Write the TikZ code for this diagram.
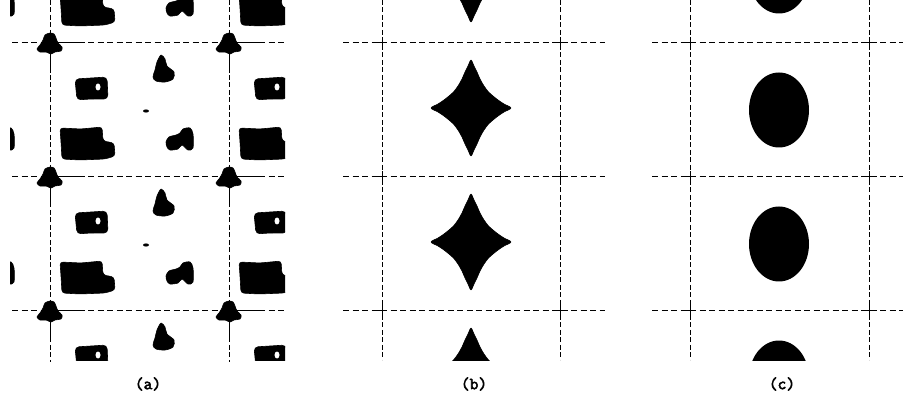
\documentclass[tikz,border=0pt]{standalone}
\usepackage{fontspec}
\newfontfamily\capfont[FakeBold=3]{Latin Modern Mono}

\begin{document}
\begin{tikzpicture}[x=1pt,y=-1pt,
    hgrid/.style={line width=0.8pt, dash pattern=on 6pt off 3.5pt},
    vgrid/.style={line width=0.8pt, dash pattern=on 5pt off 2.5pt},
    blob/.style={fill=black, draw=black, line width=0.6pt, line join=round},
    caption/.style={font=\capfont\fontsize{17}{19}\selectfont}]
  \useasboundingbox (0,0) rectangle (903,398);

  % (a)
  \begin{scope}
    \clip (10,0) rectangle (285,360);
    \foreach \i in {-1,0,1} \foreach \j in {-1,0,1,2} {
      \begin{scope}[shift={(50+179*\i,42+134*\j)}]
        \draw[line width=0.8pt] (0,0) -- (33,0) (0,0) -- (0,31);
        \fill[blob] plot[smooth cycle] coordinates {(0,-9) (4,-8) (6,-4) (8,1) (12,5) (11,9) (5,10) (1,12) (-4,10) (-10,10) (-13,7) (-10,3) (-7,-2) (-5,-7)};
        \fill[blob, rounded corners=3pt] (10,86) -- (31,87) -- (52,85) -- (53,99) -- (64,101) -- (65,114) -- (55,117) -- (30,118) -- (12,117) -- (11,100) -- cycle;
        \fill[blob, rounded corners=4pt] (25,37) -- (57,35) -- (58,57) -- (40,57) -- (27,58) -- cycle;
        \fill[white] (48,45) ellipse [x radius=2.5pt, y radius=3.5pt];
        \fill[blob] plot[smooth cycle] coordinates {(111,13) (115,17) (117,24) (124,30) (123,37) (115,40) (106,39) (103,35) (105,28) (107,20)};
        \fill (96,69) ellipse [x radius=3pt, y radius=1.6pt];
        \fill[blob] plot[smooth cycle] coordinates {(116,100) (119,95) (126,93) (130,91) (133,87) (140,86) (143,92) (143,106) (138,108) (132,103) (128,107) (120,108) (117,105)};
      \end{scope}
    }
  \end{scope}
  \foreach \y in {42,176,310} \draw[hgrid] (12,\y) -- (285,\y);
  \foreach \x in {50,229} \draw[vgrid] (\x,0) -- (\x,362);

  % (b)
  \begin{scope}
    \clip (330,0) rectangle (610,360);
    \foreach \j in {-1,0,1,2} {
      \begin{scope}[shift={(471,108+134*\j)}]
        \fill[blob] plot[smooth cycle, tension=0.5] coordinates {
          (0,-48) (3,-42) (6,-36) (9,-29) (13,-22) (17.5,-16) (22,-12) (27,-8) (33,-4)
          (40,0) (33,4) (27,8) (22,12) (17.5,16) (13,22) (9,29) (6,36) (3,42)
          (0,48) (-3,42) (-6,36) (-9,29) (-13,22) (-17.5,16) (-22,12) (-27,8) (-33,4)
          (-40,0) (-33,-4) (-27,-8) (-22,-12) (-17.5,-16) (-13,-22) (-9,-29) (-6,-36) (-3,-42)};
      \end{scope}
    }
  \end{scope}
  \foreach \y in {42,176,310} \draw[hgrid] (343,\y) -- (605,\y);
  \foreach \x in {382,560} \draw[vgrid] (\x,0) -- (\x,360);
  \foreach \x in {382,560} \foreach \y in {42,176,310}
    \draw[line width=0.8pt] (\x-5,\y) -- (\x+5,\y) (\x,\y-5) -- (\x,\y+5);

  % (c)
  \begin{scope}
    \clip (640,0) rectangle (903,360);
    \foreach \j in {-1,0,1,2}
      \fill (779,110+134*\j) ellipse [x radius=30pt, y radius=37.5pt];
  \end{scope}
  \foreach \y in {42,176,310} \draw[hgrid] (652,\y) -- (903,\y);
  \foreach \x in {690,869} \draw[vgrid] (\x,0) -- (\x,360);
  \foreach \x in {690,869} \foreach \y in {42,176,310}
    \draw[line width=0.8pt] (\x-5,\y) -- (\x+5,\y) (\x,\y-5) -- (\x,\y+5);

  \node[caption] (capa) at (148,384) {(a)};
  \node[caption] (capb) at (474,384) {(b)};
  \node[caption] (capc) at (782,384) {(c)};
\end{tikzpicture}
\end{document}
